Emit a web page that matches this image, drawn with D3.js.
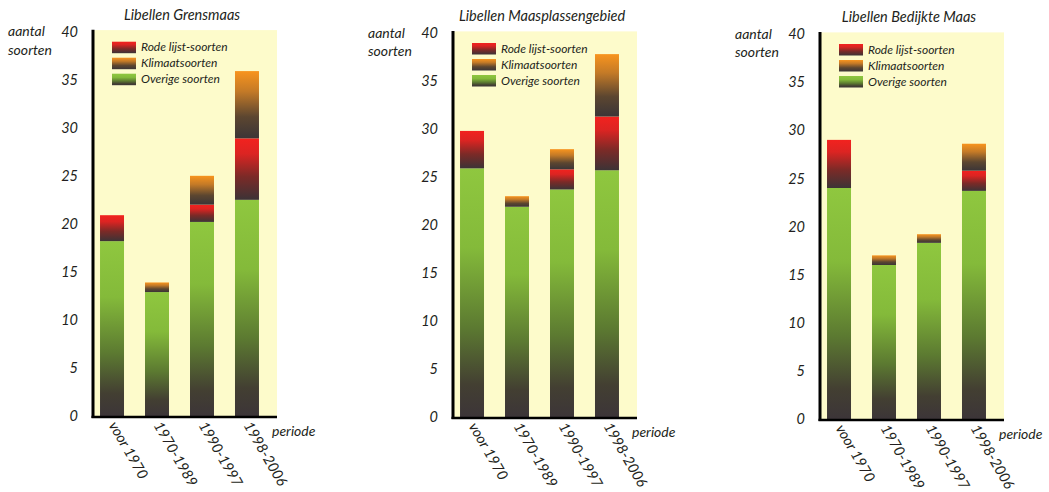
<!DOCTYPE html>
<html>
<head>
<meta charset="utf-8">
<script src="https://cdn.jsdelivr.net/npm/d3@7"></script>
<style>
  html, body { margin: 0; padding: 0; background: #ffffff; }
  svg { display: block; }
  text { font-family: Lato, "Open Sans", sans-serif; font-style: italic; fill: #231f20; }
</style>
</head>
<body>
<svg id="chart" width="1049" height="492"></svg>
<script>
// Periods on the category axis and the value ticks
const periods = ["voor 1970", "1970-1989", "1990-1997", "1998-2006"];
const yTicks = [0, 5, 10, 15, 20, 25, 30, 35, 40];
const regionTitles = ["Libellen Grensmaas", "Libellen Maasplassengebied", "Libellen Bedijkte Maas"];

// Species counts per period (stack order: overige, rode lijst, klimaat)
const overigeGrensmaas = [18.2, 12.9, 20.2, 22.5];
const rodeGrensmaas    = [2.7, 0, 1.8, 6.4];
const klimaatGrensmaas = [0, 1, 3, 7];

const overigeMaasplassen = [25.9, 21.9, 23.7, 25.7];
const rodeMaasplassen    = [3.9, 0, 2.1, 5.6];
const klimaatMaasplassen = [0, 1.1, 2.1, 6.5];

const overigeBedijkt = [24, 16, 18.3, 23.7];
const rodeBedijkt    = [5, 0, 0, 2.1];
const klimaatBedijkt = [0, 1, 0.9, 2.8];

const legendLabels = ["Rode lijst-soorten", "Klimaatsoorten", "Overige soorten"];

const regions = [
  { title: regionTitles[0], overige: overigeGrensmaas, rode: rodeGrensmaas, klimaat: klimaatGrensmaas },
  { title: regionTitles[1], overige: overigeMaasplassen, rode: rodeMaasplassen, klimaat: klimaatMaasplassen },
  { title: regionTitles[2], overige: overigeBedijkt, rode: rodeBedijkt, klimaat: klimaatBedijkt }
];

// Panel placement: x of the value axis, y of the 40 tick, y of the baseline
const panelFrames = [
  { axisX: 93,  yTop: 31.7, yBase: 416 },
  { axisX: 453, yTop: 33,   yBase: 417 },
  { axisX: 820, yTop: 34,   yBase: 419 }
];
const plotWidth = 184;

const svg = d3.select("#chart");
const defs = svg.append("defs");

// Vertical fades from the series colour into a dark grey-brown
const gradients = {
  overige: [[0, "#8fc73f"], [0.32, "#84ba3a"], [0.64, "#5c7a31"], [0.87, "#433f32"], [1, "#3c3538"]],
  rode:    [[0, "#f2221f"], [0.25, "#dc2422"], [0.62, "#7c2a27"], [1, "#3c3336"]],
  klimaat: [[0, "#f8941e"], [0.3, "#c47a27"], [0.68, "#5c4630"], [1, "#3b3537"]]
};
Object.entries(gradients).forEach(([key, stops]) => {
  const g = defs.append("linearGradient")
    .attr("id", "grad-" + key)
    .attr("x1", 0).attr("y1", 0).attr("x2", 0).attr("y2", 1);
  stops.forEach(([o, c]) => g.append("stop").attr("offset", o).attr("stop-color", c));
});

const keys = ["overige", "rode", "klimaat"];
const legendKeys = ["rode", "klimaat", "overige"];

regions.forEach((region, i) => {
  const f = panelFrames[i];
  const g = svg.append("g");

  const y = d3.scaleLinear().domain([0, 40]).range([f.yBase, f.yTop]);
  const x = d3.scaleBand()
    .domain(periods)
    .range([f.axisX, f.axisX + 173])
    .paddingInner(0.4667)
    .paddingOuter(0.156);

  // Plot background
  g.append("rect")
    .attr("x", f.axisX)
    .attr("y", y(40) - 1.6)
    .attr("width", plotWidth)
    .attr("height", f.yBase - y(40) + 1.6)
    .attr("fill", "#fdfbcb");

  // Stacked bars
  const rows = periods.map((p, j) => ({
    period: p,
    overige: region.overige[j],
    rode: region.rode[j],
    klimaat: region.klimaat[j]
  }));
  const series = d3.stack().keys(keys)(rows);
  series.forEach(s => {
    g.append("g")
      .selectAll("rect")
      .data(s.filter(d => d[1] - d[0] > 0))
      .join("rect")
      .attr("x", d => x(d.data.period))
      .attr("width", x.bandwidth())
      .attr("y", d => y(d[1]))
      .attr("height", d => y(d[0]) - y(d[1]))
      .attr("fill", "url(#grad-" + s.key + ")");
  });

  // Value axis
  const yAxis = g.append("g")
    .attr("transform", `translate(${f.axisX},0)`)
    .call(d3.axisLeft(y).tickValues(yTicks).tickSize(0).tickPadding(15));
  yAxis.select(".domain").remove();
  yAxis.selectAll("text")
    .style("font-family", "Lato, 'Open Sans', sans-serif")
    .style("font-style", "italic")
    .style("font-size", "14.5px")
    .attr("fill", "#231f20");

  // Period axis with slanted labels
  const xAxis = g.append("g")
    .attr("transform", `translate(0,${f.yBase})`)
    .call(d3.axisBottom(x).tickSize(0));
  xAxis.select(".domain").remove();
  xAxis.selectAll("text")
    .attr("x", 0).attr("y", 0).attr("dy", "0.3em")
    .attr("transform", "translate(0,7) rotate(60)")
    .style("text-anchor", "start")
    .style("font-family", "Lato, 'Open Sans', sans-serif")
    .style("font-style", "italic")
    .style("font-size", "14.5px")
    .attr("fill", "#231f20");

  // Axis lines
  g.append("line")
    .attr("x1", f.axisX).attr("x2", f.axisX)
    .attr("y1", y(40) - 2).attr("y2", f.yBase + 2)
    .attr("stroke", "#000").attr("stroke-width", 3);
  g.append("line")
    .attr("x1", f.axisX - 1.5).attr("x2", f.axisX + plotWidth)
    .attr("y1", f.yBase + 1).attr("y2", f.yBase + 1)
    .attr("stroke", "#000").attr("stroke-width", 2.5);

  // Title and axis captions
  g.append("text")
    .attr("x", f.axisX + 89)
    .attr("y", f.yTop - 12)
    .attr("text-anchor", "middle")
    .style("font-size", "14.5px")
    .text(region.title);
  g.append("text")
    .attr("x", f.axisX - 85)
    .attr("y", f.yTop + 4.5)
    .style("font-size", "14px")
    .text("aantal");
  g.append("text")
    .attr("x", f.axisX - 85)
    .attr("y", f.yTop + 23)
    .style("font-size", "14px")
    .text("soorten");
  g.append("text")
    .attr("x", f.axisX + 179)
    .attr("y", f.yBase + 20)
    .style("font-size", "14px")
    .text("periode");

  // Legend
  const legend = g.append("g")
    .attr("transform", `translate(${f.axisX + 19},${f.yTop + 10})`);
  legendKeys.forEach((k, j) => {
    legend.append("rect")
      .attr("x", 0).attr("y", j * 16)
      .attr("width", 24).attr("height", 11.5)
      .attr("fill", "url(#grad-" + k + ")");
    legend.append("text")
      .attr("x", 29).attr("y", j * 16 + 9.5)
      .style("font-size", "12px")
      .text(legendLabels[j]);
  });
});
</script>
</body>
</html>
